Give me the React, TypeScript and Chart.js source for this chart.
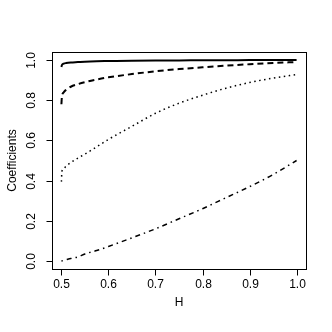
import React, { useEffect, useRef } from "react";
import { Chart, registerables } from "chart.js";

Chart.register(...registerables);

const H = [0.5, 0.501, 0.505, 0.51, 0.52, 0.535, 0.55, 0.575, 0.6, 0.65, 0.7, 0.75, 0.8, 0.85, 0.9, 0.95, 1.0];
const solidVals = [0.965, 0.975, 0.982, 0.985, 0.988, 0.99, 0.992, 0.994, 0.995, 0.997, 0.998, 0.998, 0.999, 0.999, 1.0, 1.0, 1.0];
const dashedVals = [0.78, 0.815, 0.84, 0.852, 0.867, 0.88, 0.89, 0.903, 0.914, 0.93, 0.944, 0.955, 0.964, 0.972, 0.979, 0.985, 0.99];
const dottedVals = [0.395, 0.445, 0.46, 0.472, 0.49, 0.512, 0.532, 0.568, 0.605, 0.67, 0.735, 0.785, 0.825, 0.86, 0.888, 0.91, 0.928];
const dashDotVals = [0, 0.0005, 0.003, 0.006, 0.012, 0.02, 0.035, 0.052, 0.072, 0.115, 0.16, 0.21, 0.26, 0.315, 0.37, 0.43, 0.5];

const xTicks = [0.5, 0.6, 0.7, 0.8, 0.9, 1.0];
const xTickLabels = ["0.5", "0.6", "0.7", "0.8", "0.9", "1.0"];
const yTicks = [0, 0.2, 0.4, 0.6, 0.8, 1.0];
const yTickLabels = ["0.0", "0.2", "0.4", "0.6", "0.8", "1.0"];
const xTitle = "H";
const yTitle = "Coefficients";

const FONT = '12px "Liberation Sans", Arial, sans-serif';

const rAxesPlugin = {
  id: "rAxes",
  afterDraw(chart: any) {
    const ctx = chart.ctx;
    const { left, right, top, bottom } = chart.chartArea;
    const xs = chart.scales.x;
    const ys = chart.scales.y;
    ctx.save();
    ctx.strokeStyle = "#000";
    ctx.fillStyle = "#000";
    ctx.lineWidth = 1;
    // box
    ctx.strokeRect(Math.round(left) + 0.5, Math.round(top) + 0.5, Math.round(right - left), Math.round(bottom - top));
    const tick = 6;
    ctx.font = FONT;
    // x axis
    const by = Math.round(bottom) + 0.5;
    xTicks.forEach((v, i) => {
      const px = Math.round(xs.getPixelForValue(v)) + 0.5;
      ctx.beginPath();
      ctx.moveTo(px, by);
      ctx.lineTo(px, by + tick);
      ctx.stroke();
      ctx.textAlign = "center";
      ctx.textBaseline = "middle";
      ctx.fillText(xTickLabels[i], px, 285);
    });
    ctx.textAlign = "center";
    ctx.textBaseline = "middle";
    ctx.fillText(xTitle, (left + right) / 2, 303);
    // y axis
    const lx = Math.round(left) + 0.5;
    yTicks.forEach((v, i) => {
      const py = Math.round(ys.getPixelForValue(v)) + 0.5;
      ctx.beginPath();
      ctx.moveTo(lx, py);
      ctx.lineTo(lx - tick, py);
      ctx.stroke();
      ctx.save();
      ctx.translate(32, py);
      ctx.rotate(-Math.PI / 2);
      ctx.textAlign = "center";
      ctx.textBaseline = "middle";
      ctx.fillText(yTickLabels[i], 0, 0);
      ctx.restore();
    });
    ctx.save();
    ctx.translate(13, (top + bottom) / 2);
    ctx.rotate(-Math.PI / 2);
    ctx.textAlign = "center";
    ctx.textBaseline = "middle";
    ctx.fillText(yTitle, 0, 0);
    ctx.restore();
    ctx.restore();
  },
};

function pts(vals: number[]) {
  return H.map((h, i) => ({ x: h, y: vals[i] }));
}

export default function App() {
  const ref = useRef<HTMLCanvasElement | null>(null);
  useEffect(() => {
    document.body.style.margin = "0";
    const canvas = ref.current!;
    const common = {
      pointRadius: 0,
      borderColor: "#000",
      backgroundColor: "#000",
      fill: false,
      cubicInterpolationMode: "monotone" as const,
      borderCapStyle: "butt" as const,
    };
    const chart = new Chart(canvas, {
      type: "line",
      data: {
        datasets: [
          { ...common, data: pts(solidVals), borderWidth: 2 },
          { ...common, data: pts(dashedVals), borderWidth: 2, borderDash: [6, 4] },
          { ...common, data: pts(dottedVals), borderWidth: 1.5, borderDash: [1.5, 3.5] },
          { ...common, data: pts(dashDotVals), borderWidth: 1.5, borderDash: [1.5, 4, 5, 4] },
        ],
      },
      options: {
        animation: false,
        responsive: false,
        layout: { padding: { left: 52, top: 52, right: 26, bottom: 63 } },
        plugins: { legend: { display: false }, tooltip: { enabled: false } },
        scales: {
          x: { type: "linear", min: 0.48, max: 1.02, display: false },
          y: { type: "linear", min: -0.04, max: 1.04, display: false },
        },
      },
      plugins: [rAxesPlugin],
    });
    return () => chart.destroy();
  }, []);
  return <canvas ref={ref} width={332} height={332} style={{ display: "block", background: "#fff" }} />;
}
